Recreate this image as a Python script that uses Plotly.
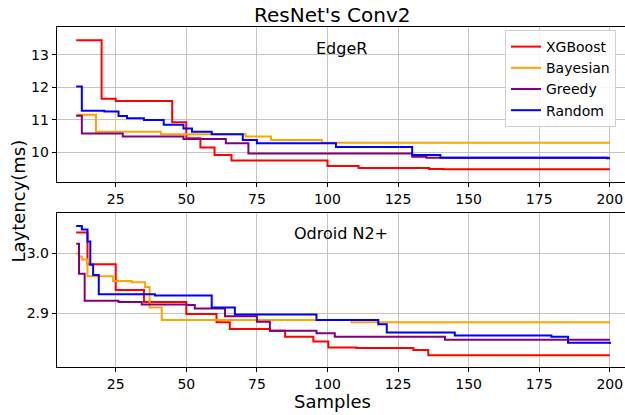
import plotly.graph_objects as go

# ---------------- data ----------------
SERIES_NAMES = ["XGBoost", "Bayesian", "Greedy", "Random"]
SERIES_COLORS = ["red", "orange", "purple", "blue"]

# EdgeR panel (step breakpoints: sample index, latency ms)
edge_xgb_x = [11, 20, 25, 45, 50, 55, 60, 66, 100, 111, 136, 141, 200]
edge_xgb_y = [13.45, 11.65, 11.58, 10.93, 10.44, 10.15, 9.92, 9.75, 9.58, 9.52, 9.49, 9.48, 9.48]

edge_bay_x = [11, 18, 41, 71, 80, 98, 200]
edge_bay_y = [11.16, 10.64, 10.56, 10.49, 10.38, 10.30, 10.30]

edge_gre_x = [11, 13, 27.5, 49, 64, 72, 130, 135, 200]
edge_gre_y = [11.13, 10.58, 10.49, 10.41, 10.28, 9.97, 9.87, 9.84, 9.84]

edge_ran_x = [11, 13, 21, 26, 29, 35, 42, 49, 52, 59, 70, 75, 103, 130, 140, 199, 200]
edge_ran_y = [12.03, 11.28, 11.26, 11.12, 11.05, 11.00, 10.85, 10.74, 10.64, 10.56, 10.38, 10.28, 10.17, 9.92, 9.84, 9.82, 9.82]

# Odroid N2+ panel
odr_xgb_x = [11, 15, 25, 35, 50, 60.7, 65.4, 79.6, 85, 95, 100.3, 110.3, 130.4, 135.7, 200]
odr_xgb_y = [3.035, 2.982, 2.939, 2.919, 2.899, 2.885, 2.874, 2.871, 2.861, 2.853, 2.843, 2.842, 2.839, 2.830, 2.830]

odr_bay_x = [11, 12, 13, 15, 24, 30.7, 35.4, 37, 41.3, 108.5, 200]
odr_bay_y = [3.000, 2.995, 2.990, 2.962, 2.954, 2.952, 2.944, 2.910, 2.889, 2.885, 2.885]

odr_gre_x = [11, 12, 14, 26, 34.2, 50, 53, 63.7, 75, 79.6, 96.1, 102.6, 141.6, 200]
odr_gre_y = [3.016, 2.966, 2.921, 2.919, 2.915, 2.914, 2.908, 2.895, 2.886, 2.871, 2.867, 2.861, 2.856, 2.856]

odr_ran_x = [11, 13, 15, 16, 17, 19, 38.9, 59, 67.2, 96.1, 118, 121, 145.1, 179.3, 185.2, 200]
odr_ran_y = [3.046, 3.040, 3.020, 2.981, 2.964, 2.932, 2.930, 2.910, 2.898, 2.889, 2.882, 2.868, 2.863, 2.861, 2.851, 2.849]

X_TICKS = [25, 50, 75, 100, 125, 150, 175, 200]
EDGE_Y_TICKS = [10, 11, 12, 13]
ODR_Y_TICKS = [2.9, 3.0]

TITLE = "ResNet's Conv2"
PANEL_TITLES = ["EdgeR", "Odroid N2+"]
X_LABEL = "Samples"
Y_LABEL = "Laytency(ms)"

# ---------------- figure ----------------
W, H = 625, 415
FONT = "DejaVu Sans"


def fx(p):
    return p / W


def fy(p):
    return 1 - p / H


fig = go.Figure()

edge = [(edge_xgb_x, edge_xgb_y), (edge_bay_x, edge_bay_y), (edge_gre_x, edge_gre_y), (edge_ran_x, edge_ran_y)]
odr = [(odr_xgb_x, odr_xgb_y), (odr_bay_x, odr_bay_y), (odr_gre_x, odr_gre_y), (odr_ran_x, odr_ran_y)]

for i, (xs, ys) in enumerate(edge):
    fig.add_trace(go.Scatter(x=xs, y=ys, mode="lines", line=dict(color=SERIES_COLORS[i], width=2, shape="hv"),
                             name=SERIES_NAMES[i], xaxis="x", yaxis="y", showlegend=True))
for i, (xs, ys) in enumerate(odr):
    fig.add_trace(go.Scatter(x=xs, y=ys, mode="lines", line=dict(color=SERIES_COLORS[i], width=2, shape="hv"),
                             name=SERIES_NAMES[i], xaxis="x2", yaxis="y2", showlegend=False))

axis_common = dict(
    showline=True, linecolor="black", linewidth=1, mirror=True,
    ticks="outside", ticklen=4, tickcolor="black", tickwidth=1,
    showgrid=True, gridcolor="#c4c4c4", gridwidth=1, zeroline=False,
    tickfont=dict(family=FONT, size=14, color="black"),
)

x_dom = [fx(56.7), fx(624.5)]
fig.update_layout(
    width=W, height=H,
    margin=dict(l=0, r=0, t=0, b=0),
    paper_bgcolor="white", plot_bgcolor="white",
    font=dict(family=FONT, color="black"),
    xaxis=dict(domain=x_dom, range=[4.1, 205.2], tickvals=X_TICKS, anchor="y", **axis_common),
    yaxis=dict(domain=[fy(181.7), fy(27.3)], range=[9.10, 13.85], tickvals=EDGE_Y_TICKS, anchor="x", **axis_common),
    xaxis2=dict(domain=x_dom, range=[4.1, 205.2], tickvals=X_TICKS, anchor="y2", **axis_common),
    yaxis2=dict(domain=[fy(367.3), fy(212.7)], range=[2.81, 3.068], tickvals=ODR_Y_TICKS, tickformat=".1f",
                anchor="x2", **axis_common),
    legend=dict(
        x=fx(505), y=fy(30), xanchor="left", yanchor="top",
        bgcolor="rgba(255,255,255,0.85)", bordercolor="#d0d0d0", borderwidth=1,
        font=dict(family=FONT, size=14, color="black"),
        itemwidth=30, tracegroupgap=0,
    ),
    showlegend=True,
)

ann = [
    dict(text=TITLE, x=fx(332), y=fy(15), font=dict(size=20)),
    dict(text=PANEL_TITLES[0], x=fx(341.7), y=fy(48), font=dict(size=16)),
    dict(text=PANEL_TITLES[1], x=fx(341), y=fy(233), font=dict(size=16)),
    dict(text=X_LABEL, x=fx(332), y=fy(401), font=dict(size=18)),
    dict(text=Y_LABEL, x=fx(17.5), y=fy(201), font=dict(size=18), textangle=-90),
]
for a in ann:
    fig.add_annotation(xref="paper", yref="paper", showarrow=False, xanchor="center", yanchor="middle",
                       text=a["text"], x=a["x"], y=a["y"], textangle=a.get("textangle", 0),
                       font=dict(family=FONT, color="black", size=a["font"]["size"]))

fig.write_html("out.html", config={"displayModeBar": False},
               post_script="document.body.style.margin='0';document.body.style.overflow='hidden';")
